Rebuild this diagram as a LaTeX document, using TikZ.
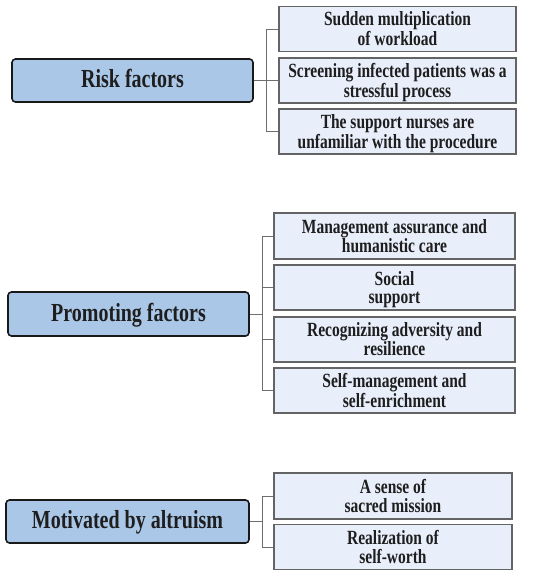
\documentclass[tikz,border=0pt]{standalone}
\usepackage{fontspec}
\usepackage{graphicx}
\setmainfont{Liberation Serif}[BoldFont={Liberation Serif Bold}]
\newcommand{\vtxt}[1]{\scalebox{1}[1.3]{\begin{tabular}{@{}c@{}}#1\end{tabular}}}
\newcommand{\ctxt}[1]{\raisebox{0pt}[\dimexpr\height+5pt\relax][\depth]{\vtxt{#1}}}
\newcommand{\ptxt}[1]{\raisebox{0pt}[\dimexpr\height+2pt\relax][\depth]{\vtxt{#1}}}
\begin{document}
\begin{tikzpicture}[x=1pt,y=-1pt,
  parentbox/.style={draw=black!90, line width=1.6pt, rounded corners=3.5pt, fill={rgb,255:red,170;green,199;blue,232},
    text={rgb,255:red,30;green,30;blue,30}, font=\fontsize{20}{24}\selectfont\bfseries, inner sep=0pt, minimum height=43pt},
  childbox/.style={draw={rgb,255:red,100;green,100;blue,100}, line width=1.1pt, fill={rgb,255:red,233;green,238;blue,251},
    text={rgb,255:red,30;green,30;blue,30}, font=\fontsize{15.5}{14.1}\selectfont\bfseries, align=center, inner sep=0pt, minimum height=45pt},
  link/.style={draw={rgb,255:red,110;green,110;blue,110}, line width=0.9pt}]
\useasboundingbox (0,0) rectangle (551,576);
% Risk factors
\node[parentbox, minimum width=241pt] (rp) at (132.5,80.5) {\ptxt{Risk factors}};
\node[childbox, minimum width=237pt, minimum height=44pt] (r1) at (397.5,29) {\ctxt{Sudden multiplication\\of workload}};
\node[childbox, minimum width=237pt] (r2) at (397.5,80.5) {\ctxt{Screening infected patients was a\\stressful process}};
\node[childbox, minimum width=237pt] (r3) at (397.5,131.5) {\ctxt{The support nurses are\\unfamiliar with the procedure}};
\coordinate (jr) at (266,80.5);
\draw[link] (rp.east) -- (jr);
\draw[link] (jr) |- (r1.west);
\draw[link] (jr) -- (r2.west);
\draw[link] (jr) |- (r3.west);
% Promoting factors
\node[parentbox, minimum width=241pt, minimum height=44pt] (pp) at (128.5,314) {\ptxt{Promoting factors}};
\node[childbox, minimum width=241pt, minimum height=46pt] (p1) at (394.5,236) {\ctxt{Management assurance and\\humanistic care}};
\node[childbox, minimum width=241pt] (p2) at (394.5,287.5) {\ctxt{Social\\support}};
\node[childbox, minimum width=241pt] (p3) at (394.5,339.5) {\ctxt{Recognizing adversity and\\resilience}};
\node[childbox, minimum width=241pt] (p4) at (394.5,390.5) {\ctxt{Self-management and\\self-enrichment}};
\coordinate (jp) at (262,314);
\draw[link] (pp.east) -- (jp);
\draw[link] (jp) |- (p1.west);
\draw[link] (jp) |- (p2.west);
\draw[link] (jp) |- (p3.west);
\draw[link] (jp) |- (p4.west);
% Motivated by altruism
\node[parentbox, minimum width=243pt] (mp) at (127.5,521.5) {\ptxt{Motivated by altruism}};
\node[childbox, minimum width=238pt, minimum height=46pt] (m1) at (393,496) {\ctxt{A sense of\\sacred mission}};
\node[childbox, minimum width=238pt, minimum height=44pt] (m2) at (393,547) {\ctxt{Realization of\\self-worth}};
\coordinate (jm) at (262,521.5);
\draw[link] (mp.east) -- (jm);
\draw[link] (jm) |- (m1.west);
\draw[link] (jm) |- (m2.west);
\end{tikzpicture}
\end{document}
